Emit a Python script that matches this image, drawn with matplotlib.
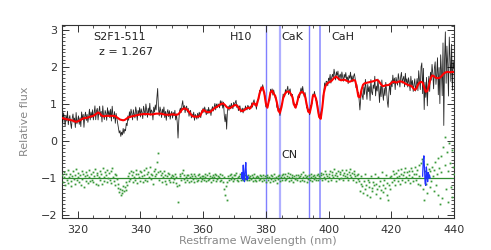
import numpy as np
import matplotlib
matplotlib.use("Agg")
import matplotlib.pyplot as plt
from matplotlib.ticker import MultipleLocator

# ---- data ----
# smoothed model (red), 315-440 nm every 0.5 nm
model_flux = [
    0.62, 0.61, 0.60, 0.59, 0.58, 0.57, 0.56, 0.55, 0.53, 0.52,
    0.53, 0.55, 0.57, 0.60, 0.62, 0.62, 0.63, 0.64, 0.66, 0.67,
    0.68, 0.71, 0.74, 0.77, 0.75, 0.70, 0.67, 0.67, 0.68, 0.68,
    0.68, 0.68, 0.68, 0.68, 0.67, 0.64, 0.61, 0.58, 0.57, 0.56,
    0.57, 0.60, 0.63, 0.65, 0.66, 0.67, 0.68, 0.69, 0.70, 0.71,
    0.72, 0.72, 0.73, 0.73, 0.73, 0.73, 0.72, 0.72, 0.72, 0.73,
    0.74, 0.74, 0.74, 0.74, 0.73, 0.72, 0.71, 0.71, 0.71, 0.71,
    0.72, 0.72, 0.71, 0.71, 0.72, 0.76, 0.82, 0.87, 0.88, 0.87,
    0.84, 0.79, 0.73, 0.68, 0.66, 0.66, 0.66, 0.66, 0.68, 0.76,
    0.84, 0.82, 0.79, 0.78, 0.78, 0.80, 0.84, 0.88, 0.91, 0.93,
    0.96, 0.99, 1.01, 1.01, 0.97, 0.92, 0.89, 0.89, 0.91, 0.94,
    0.97, 0.97, 0.94, 0.88, 0.82, 0.81, 0.83, 0.86, 0.89, 0.90,
    0.88, 0.95, 1.02, 1.01, 0.95, 1.10, 1.28, 1.42, 1.45, 1.30,
    1.02, 0.90, 1.10, 1.32, 1.36, 1.28, 1.22, 1.05, 0.82, 0.76,
    0.92, 1.15, 1.26, 1.32, 1.34, 1.33, 1.27, 1.18, 0.98, 0.90,
    1.05, 1.22, 1.30, 1.33, 1.30, 1.22, 1.00, 0.80, 0.76, 0.95,
    1.22, 1.25, 1.15, 0.90, 0.65, 0.60, 0.90, 1.30, 1.48, 1.55,
    1.58, 1.60, 1.63, 1.68, 1.72, 1.74, 1.70, 1.66, 1.64, 1.65,
    1.66, 1.64, 1.62, 1.60, 1.61, 1.63, 1.65, 1.63, 1.45, 1.20,
    1.18, 1.38, 1.52, 1.56, 1.57, 1.58, 1.59, 1.60, 1.61, 1.62,
    1.64, 1.65, 1.62, 1.56, 1.50, 1.48, 1.50, 1.51, 1.51, 1.53,
    1.57, 1.60, 1.60, 1.58, 1.59, 1.61, 1.61, 1.60, 1.58, 1.55,
    1.53, 1.51, 1.50, 1.48, 1.43, 1.38, 1.42, 1.52, 1.58, 1.60,
    1.58, 1.45, 1.33, 1.35, 1.50, 1.68, 1.77, 1.76, 1.72, 1.70,
    1.70, 1.71, 1.75, 1.80, 1.84, 1.86, 1.87, 1.86, 1.86, 1.87,
    1.86,
]

# residuals (observed - model), 315-440 nm every 0.25 nm
residual = [
    0.08, -0.12, 0.15, 0.02, -0.20, 0.10, -0.05, 0.22, -0.14, 0.04, 0.12, -0.08, -0.22, 0.06, 0.18, -0.03, 0.09, -0.16, 0.25, -0.06,
    0.03, 0.14, -0.10, 0.07, -0.18, 0.20, -0.02, 0.11, -0.25, 0.05, 0.16, -0.07, 0.09, -0.13, 0.02, 0.21, -0.09, 0.12, -0.04, 0.17,
    -0.11, 0.06, 0.24, -0.15, 0.08, 0.13, -0.20, 0.04, 0.19, -0.06, 0.10, -0.17, 0.28, 0.03, -0.09, 0.15, 0.07, -0.12, 0.22, 0.01,
    0.14, -0.05, 0.18, -0.14, 0.26, 0.02, -0.08, 0.12, -0.19, 0.09, -0.03, -0.16, -0.28, -0.38, -0.30, -0.45, -0.33, -0.40, -0.22, -0.36,
    -0.25, -0.31, -0.12, -0.20, 0.05, -0.08, 0.14, -0.02, 0.20, 0.08, -0.10, 0.17, 0.04, -0.06, 0.23, 0.10, -0.14, 0.12, 0.02, 0.19,
    -0.07, 0.15, 0.05, -0.12, 0.21, 0.09, -0.04, 0.27, 0.11, -0.09, 0.16, 0.03, 0.30, -0.02, 0.12, 0.08, -0.15, 0.19, 0.05, 0.24,
    0.10, 0.42, 0.68, 0.15, -0.06, 0.18, 0.07, -0.10, 0.13, 0.02, 0.20, -0.08, 0.09, -0.15, 0.06, 0.14, -0.05, 0.11, -0.12, 0.03,
    0.08, -0.10, 0.05, -0.03, 0.12, -0.14, 0.02, -0.22, -0.64, -0.18, 0.06, 0.10, -0.05, 0.13, 0.22, -0.02, 0.08, -0.11, 0.04, 0.09,
    -0.06, 0.07, -0.12, 0.03, 0.10, -0.08, 0.05, -0.02, 0.12, -0.10, 0.06, 0.01, -0.07, 0.09, -0.04, 0.11, 0.03, -0.09, 0.06, -0.03,
    0.05, -0.06, 0.10, 0.02, -0.08, 0.07, -0.04, 0.13, -0.02, 0.06, -0.11, 0.04, 0.09, -0.05, 0.03, 0.12, -0.07, 0.08, -0.03, 0.06,
    0.02, -0.08, 0.10, -0.04, 0.07, -0.12, 0.04, -0.30, -0.45, -0.22, -0.60, -0.10, 0.05, -0.06, 0.08, -0.03, 0.11, 0.02, -0.07, 0.09,
    -0.02, 0.07, 0.13, -0.05, 0.04, -0.09, 0.06, 0.10, -0.04, 0.02, 0.08, -0.06, 0.05, -0.03, 0.09, 0.00, -0.05, 0.07, 0.03, -0.04,
    0.06, -0.03, 0.08, -0.07, 0.04, 0.10, -0.05, 0.02, -0.09, 0.06, 0.03, -0.06, 0.09, -0.02, 0.05, -0.08, 0.07, 0.01, -0.04, 0.06,
    -0.10, 0.04, 0.07, -0.05, 0.02, -0.12, 0.08, -0.03, 0.05, -0.08, 0.10, 0.01, -0.06, 0.04, -0.14, 0.06, -0.02, 0.09, -0.07, 0.03,
    0.08, -0.04, 0.12, 0.02, -0.06, 0.10, -0.02, 0.06, 0.14, -0.08, 0.04, 0.11, -0.05, 0.02, 0.08, -0.10, 0.05, -0.03, 0.09, 0.01,
    -0.06, 0.07, 0.03, -0.09, 0.05, 0.12, -0.04, 0.16, 0.02, -0.07, 0.09, 0.04, -0.11, 0.06, -0.02, 0.08, -0.05, 0.10, 0.03, -0.08,
    0.05, -0.03, 0.09, 0.02, -0.06, 0.07, 0.11, -0.04, 0.06, 0.01, 0.14, 0.08, -0.05, 0.12, 0.03, 0.18, -0.02, 0.10, 0.06, -0.07,
    0.12, 0.04, 0.20, -0.05, 0.09, 0.15, 0.02, 0.24, 0.07, -0.08, 0.13, 0.05, 0.19, -0.03, 0.10, 0.16, 0.01, 0.22, 0.08, -0.04,
    0.14, 0.06, 0.21, 0.03, 0.11, -0.06, 0.17, 0.09, 0.25, 0.02, 0.13, -0.04, 0.10, 0.18, 0.05, -0.10, 0.08, -0.02, 0.12, -0.08,
    -0.34, -0.15, 0.05, -0.22, -0.40, -0.08, -0.30, 0.10, -0.18, -0.45, -0.05, -0.25, -0.12, -0.50, 0.06, -0.28, -0.36, -0.10, -0.20, 0.12,
    -0.42, -0.16, -0.30, 0.04, -0.22, -0.55, -0.08, -0.33, 0.15, -0.19, -0.38, -0.06, -0.27, 0.08, -0.14, -0.45, -0.60, -0.20, 0.02, -0.30,
    0.06, -0.12, 0.18, -0.05, 0.10, -0.20, 0.14, 0.03, -0.08, 0.22, 0.05, -0.15, 0.12, 0.25, -0.04, 0.09, 0.17, -0.10, 0.28, 0.04,
    0.15, -0.06, 0.20, 0.08, -0.14, 0.26, 0.02, 0.18, -0.09, 0.12, 0.30, -0.05, 0.10, 0.22, -0.16, 0.35, 0.06, -0.20, 0.40, 0.52,
    -0.30, 0.45, -0.60, 0.20, -0.15, 0.38, -0.40, 0.10, 0.25, -0.25, 0.18, -0.08, 0.30, 0.05, -0.35, 0.22, 0.42, -0.18, 0.12, 0.55,
    -0.45, 0.28, -0.70, 0.60, 0.15, -0.55, 0.85, -1.40, 0.35, 1.10, -0.30, 0.70, 0.20, -0.65, 0.95, 0.40, -0.25, 0.75, -0.50, 0.30,
    0.10,
]

# masked sky-line residuals (blue)
sky1_wl = [372.2, 372.4, 372.6, 372.8, 373.0, 373.2, 373.4, 373.6, 373.8, 374.0, 374.2, 374.4]
sky1_res = [-1.00, -0.85, -1.05, -0.65, -0.95, -1.10, -0.80, -0.58, -0.90, -1.05, -0.95, -1.00]
sky2_wl = [430.0, 430.2, 430.4, 430.6, 430.8, 431.0, 431.2, 431.4, 431.6, 431.8, 432.0, 432.2, 432.4]
sky2_res = [-0.95, -0.55, -0.40, -0.75, -1.15, -1.20, -0.70, -0.90, -1.10, -0.85, -1.00, -0.92, -1.00]

# spectral features
line_wl = [380.0, 384.4, 393.7, 397.2]
feature_labels = ["H10", "CaK", "CaH", "CN"]
object_name = "S2F1-511"
redshift = "z = 1.267"
offset = -1.0

# ---- derived ----
model_wl = np.linspace(315, 440, len(model_flux))
obs_wl = np.linspace(315, 440, len(residual))
model_arr = np.array(model_flux)
res_arr = np.array(residual)
obs_flux = np.interp(obs_wl, model_wl, model_arr) + res_arr

# ---- plot ----
fig = plt.figure(figsize=(4.91, 2.50), dpi=100)
ax = fig.add_axes([0.1263, 0.128, 0.7983, 0.772])

lc = ["#7f7fff", "#b0b0ff", "#7f7fff", "#a0a0ff"]
lw = [1.0, 1.6, 1.0, 1.4]
for w, c, l in zip(line_wl, lc, lw):
    ax.axvline(w, color=c, lw=l, zorder=1)

ax.axhline(offset, color="#2e8b2e", lw=0.9, zorder=2)
ax.plot(obs_wl, res_arr + offset, ls="none", marker="s", ms=1.3,
        mew=0, color="#3a9a3a", zorder=3)
ax.plot(sky1_wl, sky1_res, color="#2030ff", lw=0.9, zorder=4)
ax.plot(sky2_wl, sky2_res, color="#2030ff", lw=0.9, zorder=4)

ax.plot(obs_wl, obs_flux, color="black", lw=0.6, alpha=0.85, zorder=5)
ax.plot(model_wl, model_arr, color="#ff0000", lw=1.5, zorder=6)

ax.set_xlim(315, 440)
ax.set_ylim(-2.08, 3.135)

fs = 8
tc = "#222222"
ax.text(324.9, 2.81, object_name, fontsize=fs, color=tc, va="center")
ax.text(326.8, 2.41, redshift, fontsize=fs, color=tc, va="center")
ax.text(368.6, 2.81, feature_labels[0], fontsize=fs, color=tc, va="center")
ax.text(385.0, 2.81, feature_labels[1], fontsize=fs, color=tc, va="center")
ax.text(401.0, 2.81, feature_labels[2], fontsize=fs, color=tc, va="center")
ax.text(385.0, -0.38, feature_labels[3], fontsize=fs, color=tc, va="center")

ax.set_xlabel("Restframe Wavelength (nm)", fontsize=fs, color="#888888", labelpad=1)
ax.set_ylabel("Relative flux", fontsize=fs, color="#888888", labelpad=8)

ax.xaxis.set_major_locator(MultipleLocator(20))
ax.xaxis.set_minor_locator(MultipleLocator(5))
ax.yaxis.set_major_locator(MultipleLocator(1))
ax.yaxis.set_minor_locator(MultipleLocator(0.1))
ax.tick_params(which="both", direction="in", top=True, right=True,
               colors="#333333", labelsize=fs, labelcolor="#333333")
ax.tick_params(which="major", length=5, width=0.7)
ax.tick_params(which="minor", length=2.5, width=0.6)
ax.tick_params(axis="x", pad=5)
for s in ax.spines.values():
    s.set_color("#333333")
    s.set_linewidth(0.8)

fig.savefig("out.png", dpi=100)
